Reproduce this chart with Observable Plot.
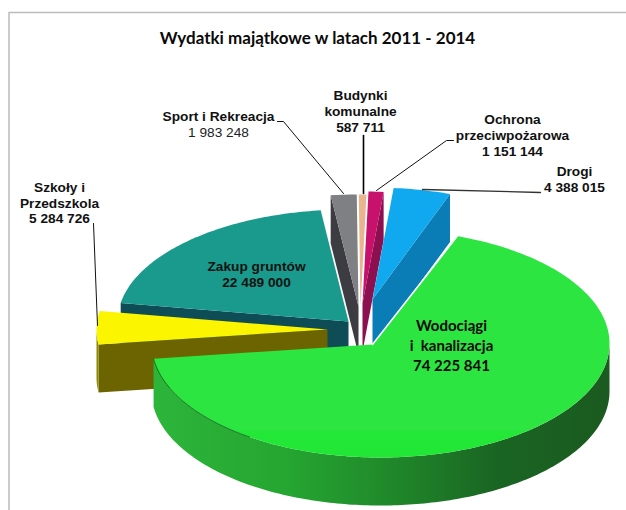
<!DOCTYPE html>
<html><head><meta charset="utf-8">
<style>html,body{margin:0;padding:0;background:#fff}</style>
<script src="https://cdn.jsdelivr.net/npm/d3@7"></script>
<script src="https://cdn.jsdelivr.net/npm/@observablehq/plot@0.6"></script>
</head><body><div id="chart"></div>
<script>
const chartTitle = "Wydatki majątkowe w latach 2011 - 2014";
const categories = ["Wodociągi\ni  kanalizacja","Szkoły i\nPrzedszkola","Zakup gruntów","Sport i Rekreacja","Budynki\nkomunalne","Ochrona\nprzeciwpożarowa","Drogi"];
const values = [74225841,5284726,22489000,1983248,587711,1151144,4388015];

// layout of the exploded 3-D pie (pixels)
const centerX = [380,327,348,358,360,362,372];
const centerY = [343,329,321,306,306,303,299];
const tipX = [372,327,348,358,360,362,372];
const tipY = [344,329,321,306,306,303,299];
const radiusX = [229,231,231,231,231,231,231];
const radiusY = [114,112,112,112,112,112,112];
const topColors = ["url(#greenTop)","#fbf500","#1a9a8c","#7f8083","#e9b48e","#c8116c","#10a8ee"];
const wallColors = ["url(#greenSide)","#6b6400","#0e4d55","#3c3c42","#c99a78","#8c0f50","#0a7cb6"];
const rimColors  = ["url(#greenSide)","#8f8800","#0e4d55","#3c3c42","#c99a78","#8c0f50","#0a7cb6"];
const startWall = [false,true,true,true,false,false,false];
const endWall   = [false,false,false,false,false,true,true];
const depth = 48, rotation = 19.6 * Math.PI / 180;
const labelX = [451,59,256,218,360,512,574];
const labelY = [326,187,266,116,95,119,171];
const labelStep = [20,15.7,16,16,16,16,16];
const leaders = [
  [[277,121],[283,121],[343,193]],
  [[363,135],[363,193]],
  [[453,140],[446,140],[376,190]],
  [[540,192],[422,189]],
  [[93,223],[97,325]]
];
const leaderColors = ["#111","#000","#111","#333","#111"];
const leaderWidths = [1,1.6,1,1.3,1];

const arcs = d3.pie().sort(null).startAngle(rotation).endAngle(rotation + 2*Math.PI)(values);
const pt = (i,a,dz=0) => ({x: centerX[i]+radiusX[i]*Math.sin(a), y: centerY[i]-radiusY[i]*Math.cos(a)+dz});
const arcPts = (i,a0,a1,dz=0) => { const n=Math.max(2,Math.ceil(Math.abs(a1-a0)*60)); return d3.range(n+1).map(k=>pt(i,a0+(a1-a0)*k/n,dz)); };
const apex = (i,dz=0) => ({x:tipX[i], y:tipY[i]+dz});
const poly = (pts,fill,extra={}) => Plot.line(pts,{x:"x",y:"y",fill,stroke:"none",curve:"linear",...extra});

function sliceMarks(i){
  const {startAngle:a0,endAngle:a1} = arcs[i], m=[];
  const front0=Math.PI/2, front1=3*Math.PI/2;
  const lo=Math.max(a0,front0), hi=Math.min(a1,front1);
  if(startWall[i]) m.push(poly([apex(i),pt(i,a0),pt(i,a0,depth),apex(i,depth)],wallColors[i]));
  if(endWall[i]) m.push(poly([apex(i),pt(i,a1),pt(i,a1,depth),apex(i,depth)],wallColors[i]));
  if(hi>lo) m.push(poly([...arcPts(i,lo,hi),...arcPts(i,hi,lo,depth)],rimColors[i]));
  m.push(poly([apex(i),...arcPts(i,a0,a1)],topColors[i]));
  return m;
}

const defs = () => {
  const d = d3.create("svg:defs");
  const side = d.append("linearGradient").attr("id","greenSide").attr("x1",0).attr("x2",1).attr("y1",0).attr("y2",0);
  [[0,"#2db53a"],[0.3,"#25a531"],[0.55,"#1f8429"],[0.75,"#1a6523"],[1,"#1b5a20"]].forEach(([o,c])=>side.append("stop").attr("offset",o).attr("stop-color",c));
  const t = d.append("linearGradient").attr("id","greenTop").attr("x1",0).attr("x2",0).attr("y1",0).attr("y2",1);
  [[0,"#2de540"],[0.88,"#2de540"],[0.88,"#24e838"],[1,"#22e636"]].forEach(([o,c])=>t.append("stop").attr("offset",o).attr("stop-color",c));
  return d.node();
};

const fmt = v => String(v).replace(/\B(?=(\d{3})+$)/g," ");
const rows = categories.flatMap((c,i)=>{
  const lines=[...c.split("\n"),fmt(values[i])];
  return lines.map((t,k)=>({t,i,x:labelX[i],y:labelY[i]+k*labelStep[i],value:k===lines.length-1}));
});
const order=[2,3,4,5,6,1,0];
const arial='"Liberation Sans",Arial,sans-serif', lato='Lato,sans-serif';

const greenArc=arcs[0];
const chart = Plot.plot({
  width:626,height:510,margin:0,
  style:{background:"#fff",whiteSpace:"pre"},
  x:{domain:[0,626],range:[0,626],axis:null},
  y:{domain:[0,510],range:[0,510],axis:null},
  marks:[
    defs,
    Plot.line([{x:626,y:12},{x:8.5,y:12},{x:8.5,y:510}],{x:"x",y:"y",stroke:"#bcbcbc",strokeWidth:1.5,curve:"linear"}),
    ...order.flatMap(sliceMarks),
    Plot.line([apex(0),pt(0,greenArc.startAngle)],{x:"x",y:"y",stroke:"#fff",strokeWidth:1.6,curve:"linear"}),
    Plot.line(arcPts(0,3.75,greenArc.endAngle),{x:"x",y:"y",stroke:"#0f5a1a",strokeWidth:0.8,curve:"linear"}),
    ...leaders.map((l,k)=>Plot.line(l.map(([x,y])=>({x,y})),{x:"x",y:"y",stroke:leaderColors[k],strokeWidth:leaderWidths[k],curve:"linear"})),
    Plot.text([chartTitle],{x:()=>317,y:()=>38,text:d=>d,fontFamily:lato,fontWeight:700,fontSize:17,fill:"#0a0a0a"}),
    Plot.text(rows.filter(r=>r.i!==0&&!(r.i===3&&r.value)),{x:"x",y:"y",text:"t",fontFamily:arial,fontWeight:700,fontSize:13.7,fill:"#111"}),
    Plot.text(rows.filter(r=>r.i===3&&r.value),{x:"x",y:"y",text:"t",fontFamily:arial,fontWeight:400,fontSize:13.7,fill:"#222"}),
    Plot.text(rows.filter(r=>r.i===0),{x:"x",y:"y",text:"t",fontFamily:lato,fontWeight:700,fontSize:15,fill:"#0a0a0a"})
  ]
});
document.getElementById("chart").append(chart);
</script></body></html>
